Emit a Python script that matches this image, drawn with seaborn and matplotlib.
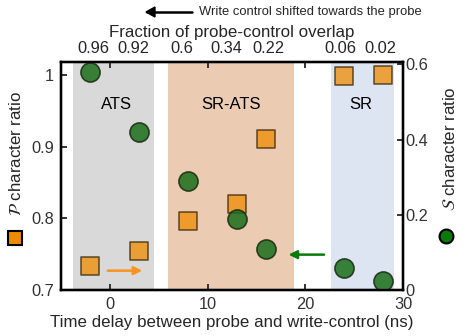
import matplotlib
matplotlib.use("Agg")
import matplotlib.pyplot as plt
import seaborn as sns
import pandas as pd

# data
delay_ns = [-2, 3, 8, 13, 16, 24, 28]
p_ratio = [0.734, 0.754, 0.796, 0.820, 0.910, 0.998, 1.000]
s_ratio = [0.579, 0.419, 0.289, 0.189, 0.108, 0.059, 0.025]
overlap_labels = ["0.96", "0.92", "0.6", "0.34", "0.22", "0.06", "0.02"]
overlap_pos = [-1.7, 2.4, 7.4, 11.9, 16.2, 23.6, 27.7]

regions = ["ATS", "SR-ATS", "SR"]
region_start = [-3.75, 6.0, 22.6]
region_end = [4.5, 18.8, 29.1]
region_colors = ["#d9d9d9", "#ebccb3", "#dde5f2"]
region_text_x = [0.7, 12.35, 25.7]

df = pd.DataFrame({"delay": delay_ns, "P": p_ratio, "S": s_ratio})

sns.set_style("ticks")
plt.rcParams["font.family"] = ["Liberation Sans", "DejaVu Sans"]
plt.rcParams["mathtext.fontset"] = "dejavusans"
plt.rcParams["axes.linewidth"] = 1.6

TICK_FS = 11.8
LABEL_FS = 12.2

fig = plt.figure(figsize=(4.64, 3.36), dpi=100)
ax = fig.add_axes([61 / 464, 1 - 290 / 336, 342 / 464, 228 / 336])

for start, end, col, name, tx in zip(region_start, region_end, region_colors, regions, region_text_x):
    ax.axvspan(start, end, color=col, lw=0, zorder=0)
    ax.text(tx, 0.959, name, ha="center", va="center", fontsize=12, color="black")

sns.scatterplot(data=df, x="delay", y="P", ax=ax, marker="s", s=165,
                color="#f08a00", alpha=0.75, edgecolor="#3a2a10", linewidth=1.2, zorder=3)
ax.set_xlim(-5, 30)
ax.set_ylim(0.7, 1.018)
ax.set_xticks([0, 10, 20, 30])
ax.set_yticks([0.7, 0.8, 0.9, 1.0])
ax.set_yticklabels(["0.7", "0.8", "0.9", "1"])
ax.tick_params(direction="in", length=4, width=1.4, labelsize=TICK_FS, colors="#333333", pad=5)
ax.set_xlabel("Time delay between probe and write-control (ns)", fontsize=LABEL_FS, labelpad=2)
ax.set_ylabel(r"$\mathcal{P}$ character ratio", fontsize=LABEL_FS)
ax.yaxis.set_label_coords(-0.108, 0.6)

ax.annotate("", xy=(3.6, 0.727), xytext=(-0.5, 0.727),
            arrowprops=dict(arrowstyle="-|>", color="#f7931e", lw=1.8, mutation_scale=12))

ax2 = ax.twinx()
sns.scatterplot(data=df, x="delay", y="S", ax=ax2, marker="o", s=190,
                color="#1a6e1a", alpha=0.85, edgecolor="#1a2a10", linewidth=1.2, zorder=3)
ax2.set_ylim(0, 0.606)
ax2.set_yticks([0, 0.2, 0.4, 0.6])
ax2.set_yticklabels(["0", "0.2", "0.4", "0.6"])
ax2.tick_params(direction="in", length=4, width=1.4, labelsize=TICK_FS, colors="#333333", pad=2)
ax2.set_ylabel(r"$\mathcal{S}$ character ratio", fontsize=LABEL_FS, rotation=90)
ax2.yaxis.set_label_coords(1.115, 0.62)
ax2.annotate("", xy=(18.0, 0.094), xytext=(22.2, 0.094),
             arrowprops=dict(arrowstyle="-|>", color="#0a7a0a", lw=1.8, mutation_scale=12))

ax3 = ax.twiny()
ax3.set_xlim(ax.get_xlim())
ax3.set_xticks([0, 10, 20])
ax3.set_xticklabels(["", "", ""])
ax3.set_xticks(overlap_pos, minor=True)
ax3.set_xticklabels(overlap_labels, minor=True)
ax3.tick_params(which="major", direction="in", length=4, width=1.4, colors="#333333")
ax3.tick_params(which="minor", length=0, labelsize=TICK_FS, pad=4)
ax3.set_xlabel("Fraction of probe-control overlap", fontsize=LABEL_FS, labelpad=3)

for a in (ax, ax2, ax3):
    for sp in a.spines.values():
        sp.set_visible(True)
        sp.set_color("black")

# legend-style key markers beside the y labels
fig.add_artist(plt.Line2D([15 / 464], [1 - 238 / 336], marker="s", markersize=10,
                          color="#f08a00", markeredgecolor="black", markeredgewidth=1.5))
fig.add_artist(plt.Line2D([446 / 464], [1 - 236 / 336], marker="o", markersize=10,
                          color="#0a7a0a", markeredgecolor="black", markeredgewidth=1.5))

# header note with arrow
fig.text(199 / 464, 1 - 12 / 336, "Write control shifted towards the probe",
         fontsize=9.4, ha="left", va="center")
fig.add_artist(plt.Line2D([147 / 464, 192 / 464], [1 - 12 / 336, 1 - 12 / 336],
                          color="black", lw=1.8))
fig.patches.append(matplotlib.patches.FancyArrow(
    155 / 464, 1 - 12 / 336, -9 / 464, 0, width=0, head_width=10 / 336,
    head_length=9 / 464, length_includes_head=True, color="black",
    transform=fig.transFigure, figure=fig))

fig.savefig("out.png", dpi=100)
